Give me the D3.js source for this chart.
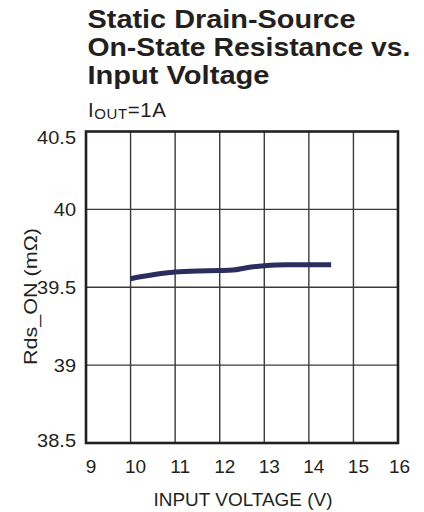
<!DOCTYPE html>
<html><head><meta charset="utf-8">
<script src="https://cdn.jsdelivr.net/npm/d3@7"></script>
<style>body{margin:0;background:#fff;} svg{display:block;}</style>
</head><body>
<script>
const titleLines = ["Static Drain-Source", "On-State Resistance vs.", "Input Voltage"];
const xTicks = [9, 10, 11, 12, 13, 14, 15, 16];
const yTicks = [38.5, 39, 39.5, 40, 40.5];
const yTickLabels = ["38.5", "39", "39.5", "40", "40.5"];
const vin = [10, 10.5, 11, 11.5, 12, 12.3, 12.6, 13, 13.5, 14, 14.5];
const rdsOn = [39.555, 39.58, 39.598, 39.605, 39.607, 39.61, 39.625, 39.638, 39.645, 39.645, 39.645];

const W = 424, H = 512;
const svg = d3.select("body").append("svg").attr("width", W).attr("height", H);
const font = "Liberation Sans, Arial, sans-serif";
const ink = "#231f20";
const L = 86, R = 398, T = 131.5, B = 443;
const x = d3.scaleLinear().domain([9, 16]).range([L, R]);
const y = d3.scaleLinear().domain([38.5, 40.5]).range([B, T]);

function stretch(sel, f) {
  sel.each(function () {
    const n = this.getComputedTextLength();
    d3.select(this).attr("textLength", n * f).attr("lengthAdjust", "spacingAndGlyphs");
  });
}

// title
const titleWidths = [268, 323, 182];
svg.append("g").selectAll("text").data(titleLines).join("text")
  .attr("x", 87.5).attr("y", (d, i) => 28.3 + i * 27.8)
  .attr("font-family", font).attr("font-weight", "bold").attr("font-size", 25.5)
  .attr("fill", ink).text(d => d)
  .attr("textLength", (d, i) => titleWidths[i]).attr("lengthAdjust", "spacingAndGlyphs");

const sub = svg.append("text").attr("x", 88).attr("y", 117)
  .attr("font-family", font).attr("font-size", 20.5).attr("fill", ink)
  .attr("letter-spacing", 0.6);
sub.append("tspan").text("I");
sub.append("tspan").attr("font-size", 15).attr("dy", 1.5).text("OUT");
sub.append("tspan").attr("dy", -1.5).text("=1A");

// grid
const g = svg.append("g");
g.selectAll("line.v").data(xTicks.slice(1, -1)).join("line")
  .attr("x1", d => x(d)).attr("x2", d => x(d)).attr("y1", T).attr("y2", B)
  .attr("stroke", "#3a3a3a").attr("stroke-width", 1.4);
g.selectAll("line.h").data(yTicks.slice(1, -1)).join("line")
  .attr("x1", L).attr("x2", R).attr("y1", d => y(d)).attr("y2", d => y(d))
  .attr("stroke", "#3a3a3a").attr("stroke-width", 1.4);

// axes labels via d3 axes
const xAxis = d3.axisBottom(x).tickValues(xTicks).tickSize(0).tickPadding(0).tickFormat(d3.format("d"));
const xa = svg.append("g").attr("transform", `translate(0,${B})`).call(xAxis);
xa.select(".domain").remove();
xa.selectAll("text").attr("font-family", font).attr("font-size", 19).attr("fill", ink)
  .attr("dy", null).attr("y", 30).attr("x", (d, i, n) => i === n.length - 1 ? 1 : 4.5);

const yAxis = d3.axisLeft(y).tickValues(yTicks).tickSize(0).tickPadding(10).tickFormat((d, i) => yTickLabels[i]);
const ya = svg.append("g").attr("transform", `translate(${L},0)`).call(yAxis);
ya.select(".domain").remove();
ya.selectAll("text").attr("font-family", font).attr("font-size", 18.5).attr("fill", ink)
  .attr("y", (d, i, n) => i === n.length - 1 ? 6 : (i === 0 ? -2.5 : 0))
  .call(stretch, 1.08);

// border
svg.append("rect").attr("x", L).attr("y", T).attr("width", R - L).attr("height", B - T)
  .attr("fill", "none").attr("stroke", ink).attr("stroke-width", 2.6);

// data line
const line = d3.line().x((d, i) => x(vin[i])).y(d => y(d)).curve(d3.curveMonotoneX);
svg.append("path").datum(rdsOn).attr("d", line)
  .attr("fill", "none").attr("stroke", "#2b2d5e").attr("stroke-width", 5);

// axis titles
svg.append("text").attr("x", 243).attr("y", 505.5).attr("text-anchor", "middle")
  .attr("font-family", font).attr("font-size", 19).attr("fill", ink)
  .attr("textLength", 179).attr("lengthAdjust", "spacingAndGlyphs")
  .text("INPUT VOLTAGE (V)");
svg.append("text").attr("transform", "translate(36.7,296.5) rotate(-90)").attr("text-anchor", "middle")
  .attr("font-family", font).attr("font-size", 18.5).attr("fill", ink)
  .attr("textLength", 137).attr("lengthAdjust", "spacingAndGlyphs")
  .text("Rds_ON (mΩ)");
</script>
</body></html>
